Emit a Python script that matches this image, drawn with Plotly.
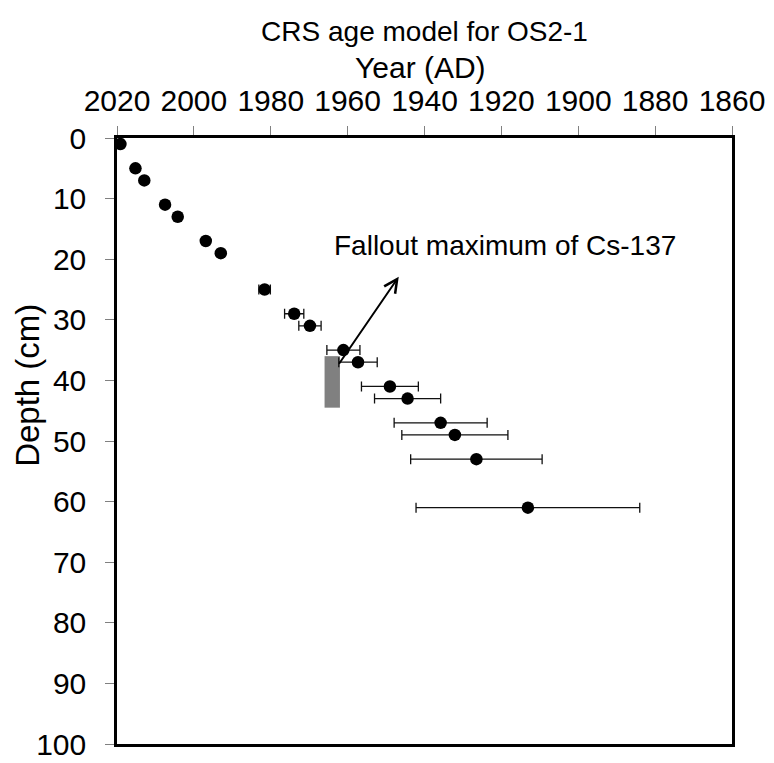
import plotly.graph_objects as go

# CRS age model, core OS2-1
depth_cm = [1, 5, 7, 11, 13, 17, 19, 25, 29, 31, 35, 37, 41, 43, 47, 49, 53, 61]
year_ad = [2019.1, 2015.2, 2012.9, 2007.5, 2004.2, 1996.9, 1993.0, 1981.6, 1973.9,
           1969.8, 1961.1, 1957.3, 1949.0, 1944.4, 1935.8, 1932.1, 1926.5, 1913.1]
year_err = [0.3, 0.3, 0.3, 0.4, 0.4, 0.5, 0.6, 1.5, 2.5,
            2.9, 4.3, 5.0, 7.4, 8.6, 12.1, 13.8, 17.1, 29.1]

# Cs-137 fallout maximum band
cs_years = [1966, 1962]
cs_depth = [36, 44.5]
# arrow: tail (year, depth) -> head (year, depth)
arrow_tail = (1962.5, 37.5)
arrow_head = (1946.7, 22.9)
label_pos = (1919.1, 17.8)

FONT = "Liberation Sans, Arial, sans-serif"

fig = go.Figure()

fig.add_shape(
    type="rect", xref="x", yref="y",
    x0=cs_years[0], x1=cs_years[1], y0=cs_depth[0], y1=cs_depth[1],
    fillcolor="#808080", line_width=0, layer="below",
)

fig.add_trace(
    go.Scatter(
        x=year_ad, y=depth_cm, mode="markers",
        marker=dict(color="black", size=12.5),
        error_x=dict(type="data", array=year_err, color="#111111", thickness=1.3, width=5),
        showlegend=False,
    )
)

fig.add_annotation(
    x=arrow_head[0], y=arrow_head[1], ax=arrow_tail[0], ay=arrow_tail[1],
    xref="x", yref="y", axref="x", ayref="y",
    text="", showarrow=True, arrowhead=5, arrowsize=1.3, arrowwidth=2, arrowcolor="black",
    standoff=0, startstandoff=0,
)
fig.add_annotation(
    x=label_pos[0], y=label_pos[1], xref="x", yref="y",
    text="Fallout maximum of Cs-137", showarrow=False,
    font=dict(size=28, color="black", family=FONT),
)

# y-axis title sits above the centre of the axis in the original
fig.add_annotation(
    x=0, y=0.591, xref="paper", yref="paper", xshift=-89,
    xanchor="center", yanchor="middle",
    text="Depth (cm)", textangle=-90, showarrow=False,
    font=dict(size=33, color="black", family=FONT),
)
fig.add_annotation(
    x=0.5, y=1, xref="paper", yref="paper", yshift=71, xshift=-4,
    xanchor="center", yanchor="middle",
    text="Year (AD)", showarrow=False,
    font=dict(size=30, color="black", family=FONT),
)

axis_style = dict(
    showline=True, linecolor="black", linewidth=2.5, mirror=True,
    ticks="outside", ticklen=9, tickwidth=1, tickcolor="#808080",
    showgrid=False, zeroline=False, automargin=False,
    tickfont=dict(size=30, color="black", family=FONT),
)

fig.update_xaxes(range=[2020, 1860], side="top", tick0=2020, dtick=20,
                 ticklabelstandoff=3, **axis_style)
fig.update_yaxes(range=[100, 0], tick0=0, dtick=10, ticklabelstandoff=13, **axis_style)

# page body adds an 8px offset, so the figure is 8px smaller than the window
fig.update_layout(
    width=766, height=755,
    margin=dict(l=109, r=42, t=130, b=19),
    paper_bgcolor="white", plot_bgcolor="white",
    font=dict(family=FONT, color="black"),
    title=dict(
        text="CRS age model for OS2-1", xref="paper", x=0.5, xanchor="center",
        y=1 - 23 / 755, yanchor="middle",
        font=dict(size=28, color="black", family=FONT),
    ),
)

fig.write_html("out.html")
